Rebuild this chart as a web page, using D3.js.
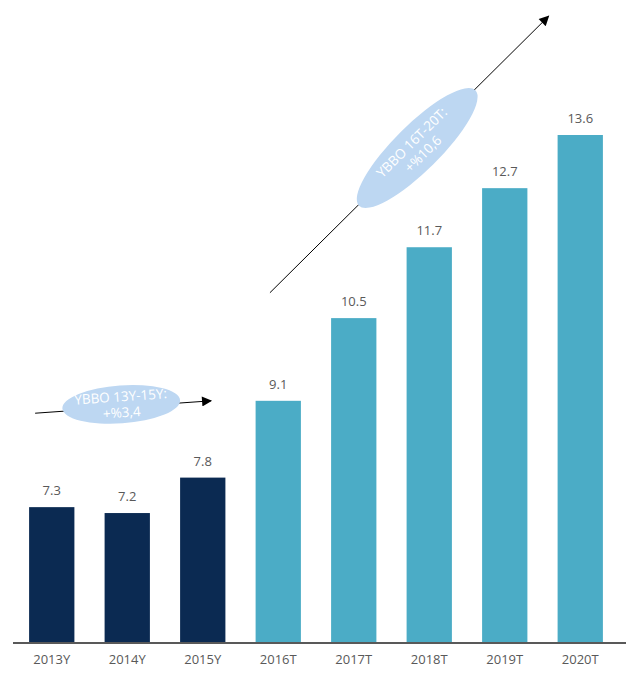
<html>
<head>
<script src="https://d3js.org/d3.v7.min.js"></script>
<style>
  body { margin: 0; background: #fff; }
  text { font-family: "Open Sans", sans-serif; }
</style>
</head>
<body>
<svg id="chart" width="638" height="674"></svg>
<script>
// values
const years = ["2013Y", "2014Y", "2015Y", "2016T", "2017T", "2018T", "2019T", "2020T"];
const values = [7.3, 7.2, 7.8, 9.1, 10.5, 11.7, 12.7, 13.6];
const phase = ["actual", "actual", "actual", "forecast", "forecast", "forecast", "forecast", "forecast"];

// growth callouts, in chart coordinates (bar index, value)
const growthLabels = [["YBBO 13Y-15Y:", "+%3,4"], ["YBBO 16T-20T:", "+%10,6"]];
const growthFrom = [[-0.22, 8.89], [2.89, 10.93]];
const growthTo = [[2.11, 9.10], [6.58, 15.61]];
const growthBubble = [[0.92, 9.04], [4.84, 13.38]];

const svg = d3.select("#chart");
const colors = { actual: "#0b2a52", forecast: "#4bacc6" };

const x = d3.scaleBand()
    .domain(years)
    .range([14, 618])
    .paddingInner(0.4)
    .paddingOuter(0.2);

const y = d3.scaleLinear()
    .domain([5, 13.6])
    .range([643, 135]);

// index -> pixel for the annotations
const xi = d3.scaleLinear()
    .domain([0, years.length - 1])
    .range([x(years[0]) + x.bandwidth() / 2, x(years[years.length - 1]) + x.bandwidth() / 2]);

// bars
svg.selectAll(".bar")
    .data(values)
    .join("rect")
    .attr("class", "bar")
    .attr("x", (d, i) => x(years[i]))
    .attr("width", x.bandwidth())
    .attr("y", d => y(d))
    .attr("height", d => y(5) - y(d))
    .attr("fill", (d, i) => colors[phase[i]]);

// value labels
svg.selectAll(".val")
    .data(values)
    .join("text")
    .attr("class", "val")
    .attr("x", (d, i) => x(years[i]) + x.bandwidth() / 2)
    .attr("y", d => y(d) - 12)
    .attr("text-anchor", "middle")
    .attr("font-size", 13)
    .attr("fill", "#595959")
    .text(d => d.toFixed(1));

// x axis
const xAxis = svg.append("g")
    .attr("transform", `translate(0,${y(5)})`)
    .call(d3.axisBottom(x).tickSize(0).tickPadding(12));
xAxis.select(".domain")
    .attr("d", "M13,0H626")
    .attr("stroke", "#595959")
    .attr("stroke-width", 2);
xAxis.selectAll("text")
    .attr("font-size", 13)
    .attr("fill", "#595959")
    .attr("font-family", "'Open Sans', sans-serif");

// arrow head
svg.append("defs").append("marker")
    .attr("id", "head")
    .attr("viewBox", "0 0 10 10")
    .attr("refX", 9)
    .attr("refY", 5)
    .attr("markerWidth", 13)
    .attr("markerHeight", 10)
    .attr("markerUnits", "userSpaceOnUse")
    .attr("orient", "auto")
    .append("path")
    .attr("d", "M0,0L10,5L0,10Z")
    .attr("fill", "#000");

const bubbleSize = [[59, 19], [82, 23]];

growthLabels.forEach((lines, k) => {
  const x1 = xi(growthFrom[k][0]), y1 = y(growthFrom[k][1]);
  const x2 = xi(growthTo[k][0]), y2 = y(growthTo[k][1]);
  const angle = Math.atan2(y2 - y1, x2 - x1) * 180 / Math.PI;

  svg.append("line")
      .attr("x1", x1).attr("y1", y1)
      .attr("x2", x2).attr("y2", y2)
      .attr("stroke", "#000")
      .attr("stroke-width", 1)
      .attr("marker-end", "url(#head)");

  const cx = xi(growthBubble[k][0]), cy = y(growthBubble[k][1]);
  const g = svg.append("g")
      .attr("transform", `translate(${cx},${cy}) rotate(${angle})`);
  g.append("ellipse")
      .attr("rx", bubbleSize[k][0])
      .attr("ry", bubbleSize[k][1])
      .attr("fill", "#bdd7f2");
  g.selectAll("text")
      .data(lines)
      .join("text")
      .attr("text-anchor", "middle")
      .attr("y", (d, i) => (i - 0.5) * 16 + 5)
      .attr("font-size", 13.5)
      .attr("fill", "#fff")
      .text(d => d);
});
</script>
</body>
</html>
